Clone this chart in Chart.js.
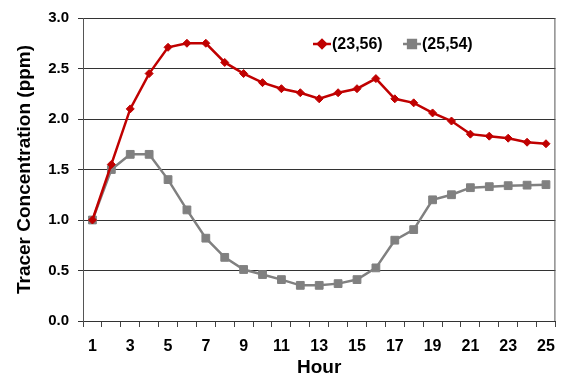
<!DOCTYPE html>
<html>
<head>
<meta charset="utf-8">
<script src="https://cdn.jsdelivr.net/npm/chart.js@4.4.1/dist/chart.umd.min.js"></script>
<style>
  html, body { margin: 0; padding: 0; background: #fff; }
  canvas { display: block; }
</style>
</head>
<body>
<canvas id="chart" width="565" height="379"></canvas>
<script>
const hours = ['1','2','3','4','5','6','7','8','9','10','11','12','13','14','15','16','17','18','19','20','21','22','23','24','25'];
const site2356 = [1.0, 1.55, 2.1, 2.45, 2.71, 2.75, 2.75, 2.56, 2.45, 2.36, 2.3, 2.26, 2.2, 2.26, 2.3, 2.4, 2.2, 2.16, 2.06, 1.98, 1.85, 1.83, 1.81, 1.77, 1.755];
const site2554 = [1.0, 1.5, 1.65, 1.65, 1.4, 1.1, 0.82, 0.63, 0.51, 0.46, 0.41, 0.353, 0.353, 0.37, 0.41, 0.526, 0.8, 0.905, 1.2, 1.25, 1.32, 1.33, 1.34, 1.345, 1.35];
const seriesNames = ['(23,56)', '(25,54)'];

const RED = '#c00000';
const GRAY = '#808080';
const FONT = 'Liberation Sans, Arial, sans-serif';

// legend drawn inside the plot, upper right, line + marker like the original
const insideLegend = {
    id: 'insideLegend',
    afterDraw(chart) {
        const ctx = chart.ctx;
        const items = [
            { x: 313, ds: chart.data.datasets[0] },
            { x: 403, ds: chart.data.datasets[1] }
        ];
        const y = 44;
        ctx.save();
        items.forEach(it => {
            ctx.strokeStyle = it.ds.borderColor;
            ctx.lineWidth = 2.5;
            ctx.beginPath();
            ctx.moveTo(it.x, y);
            ctx.lineTo(it.x + 18, y);
            ctx.stroke();
            ctx.fillStyle = it.ds.borderColor;
            Chart.helpers.drawPoint(ctx, {
                pointStyle: it.ds.pointStyle,
                radius: it.ds.pointRadius,
                borderWidth: 1
            }, it.x + 9, y);
            ctx.fillStyle = '#000';
            ctx.font = 'bold 16px ' + FONT;
            ctx.textBaseline = 'middle';
            ctx.textAlign = 'left';
            ctx.fillText(it.ds.label, it.x + 19, y + 1);
        });
        ctx.restore();
    }
};

// right edge of the plot frame
const rightBorder = {
    id: 'rightBorder',
    afterDraw(chart) {
        const a = chart.chartArea;
        const ctx = chart.ctx;
        ctx.save();
        ctx.strokeStyle = '#555';
        ctx.lineWidth = 1;
        ctx.beginPath();
        ctx.moveTo(a.right - 0.5, a.top);
        ctx.lineTo(a.right - 0.5, a.bottom);
        ctx.stroke();
        ctx.restore();
    }
};

new Chart(document.getElementById('chart'), {
    type: 'line',
    data: {
        labels: hours,
        datasets: [
            {
                label: seriesNames[0],
                data: site2356,
                borderColor: RED,
                backgroundColor: RED,
                borderWidth: 2.5,
                pointStyle: 'rectRot',
                pointRadius: 4,
                pointBorderWidth: 1,
                tension: 0
            },
            {
                label: seriesNames[1],
                data: site2554,
                borderColor: GRAY,
                backgroundColor: GRAY,
                borderWidth: 2.5,
                pointStyle: 'rect',
                pointRadius: 5.5,
                pointBorderWidth: 1,
                tension: 0
            }
        ]
    },
    options: {
        responsive: false,
        animation: false,
        layout: { padding: { left: 0, right: 1, top: 15, bottom: 0 } },
        plugins: {
            legend: { display: false },
            tooltip: { enabled: false }
        },
        scales: {
            x: {
                offset: true,
                grid: {
                    offset: true,
                    drawOnChartArea: false,
                    tickLength: 6,
                    color: '#444'
                },
                border: { color: '#333', width: 1 },
                ticks: {
                    autoSkip: false,
                    maxRotation: 0,
                    padding: 10,
                    color: '#000',
                    font: { family: FONT, size: 16, weight: 'bold' },
                    callback: (v, i) => (i % 2 === 0 ? hours[i] : '')
                },
                title: {
                    display: true,
                    text: 'Hour',
                    color: '#000',
                    font: { family: FONT, size: 19, weight: 'bold' },
                    padding: { top: 0, bottom: 0 }
                },
                afterFit: scale => { scale.height = 58; }
            },
            y: {
                min: 0,
                max: 3,
                grid: {
                    color: '#333',
                    tickLength: 5
                },
                border: { color: '#555', width: 1 },
                ticks: {
                    stepSize: 0.5,
                    padding: 9,
                    color: '#000',
                    font: { family: FONT, size: 15, weight: 'bold' },
                    callback: v => v.toFixed(1)
                },
                title: {
                    display: true,
                    text: 'Tracer Concentration (ppm)',
                    color: '#000',
                    font: { family: FONT, size: 19, weight: 'bold' },
                    padding: { top: 13, bottom: 0 }
                },
                afterFit: scale => { scale.width = 83; }
            }
        }
    },
    plugins: [insideLegend, rightBorder]
});
</script>
</body>
</html>
